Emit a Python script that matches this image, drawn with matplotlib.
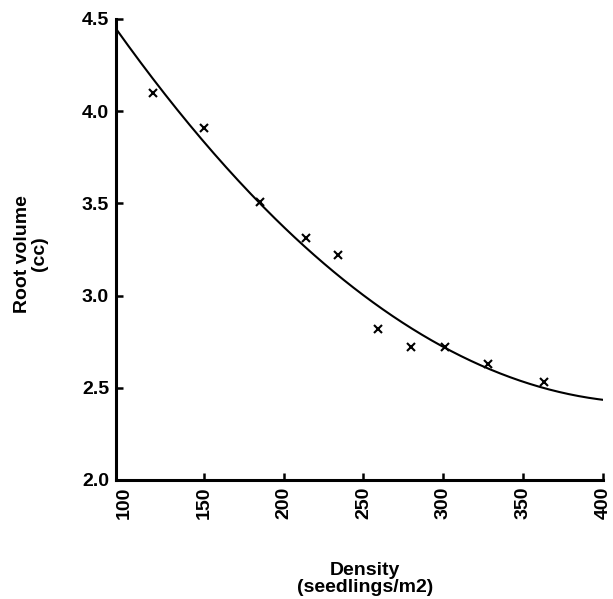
import numpy as np
import matplotlib.pyplot as plt

plt.rcParams['font.family'] = ['Liberation Sans', 'DejaVu Sans']
plt.rcParams['font.weight'] = 'bold'

# Dane
density = [118, 150, 185, 214, 234, 259, 280, 301, 328, 363]
root_volume = [4.10, 3.91, 3.51, 3.31, 3.22, 2.82, 2.72, 2.72, 2.63, 2.53]
x_ticks = [100, 150, 200, 250, 300, 350, 400]
y_ticks = [2.0, 2.5, 3.0, 3.5, 4.0, 4.5]

# Dopasowanie krzywej (wielomian 2 stopnia)
coef = np.polyfit(density, root_volume, 2)
xs = np.linspace(95, 400, 200)
ys = np.polyval(coef, xs)

fig = plt.figure(figsize=(6.13, 5.99), dpi=100)
ax = fig.add_axes([0.1892, 0.1987, 0.7945, 0.7696])

ax.plot(xs, ys, color='black', linewidth=1.5)
ax.plot(density, root_volume, 'x', color='black', markersize=6, markeredgewidth=1.5)

ax.set_xlim(95, 400)
ax.set_ylim(2.0, 4.5)
ax.set_xticks(x_ticks)
ax.set_yticks(y_ticks)
ax.set_yticklabels(['%.1f' % v for v in y_ticks])
ax.tick_params(axis='both', direction='in', length=5, width=1.8, labelsize=14, pad=5)
ax.tick_params(axis='x', labelrotation=90)
# pierwszy znacznik osi X bez kreski
ax.xaxis.get_major_ticks()[0].tick1line.set_visible(False)

for s in ['top', 'right']:
    ax.spines[s].set_visible(False)
for s in ['left', 'bottom']:
    ax.spines[s].set_linewidth(2.2)

fig.text(0.5954, 0.0326, 'Density\n(seedlings/m2)', fontsize=14, fontweight='bold',
         ha='center', va='center', linespacing=1.0)
fig.text(0.0506, 0.576, 'Root volume\n(cc)', fontsize=14, fontweight='bold',
         ha='center', va='center', rotation=90, linespacing=1.0)

fig.savefig('out.png', dpi=100)
